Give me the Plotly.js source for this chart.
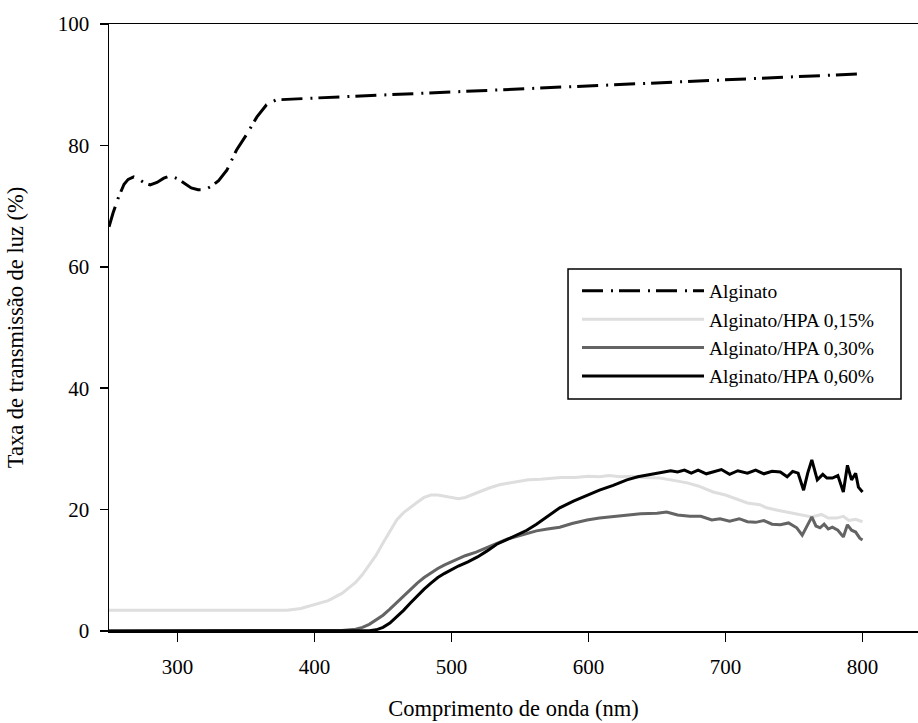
<!DOCTYPE html>
<html>
<head>
<meta charset="utf-8">
<script src="https://cdn.plot.ly/plotly-3.0.1.min.js"></script>
<style>body{margin:0;background:#fff}#chart{width:918px;height:723px}</style>
</head>
<body>
<div id="chart"></div>
<script>
// Series names
const seriesNames = ["Alginato", "Alginato/HPA 0,15%", "Alginato/HPA 0,30%", "Alginato/HPA 0,60%"];

// Alginato
const algX = [250,253,257,261,264,268,272,276,280,285,290,295,300,305,310,315,320,325,330,336,343,351,358,365,372,400,450,500,550,600,650,700,750,800];
const algY = [66.6,68.9,71.5,73.6,74.4,74.8,74.4,73.8,73.5,73.9,74.6,75.0,74.5,73.7,73.0,72.7,72.7,73.3,74.2,75.9,79.2,82.0,84.7,86.7,87.5,87.8,88.3,88.8,89.4,89.9,90.4,90.9,91.4,91.8];

// Alginato/HPA 0,15%
const hpa15X = [250,300,350,380,390,400,410,420,430,435,440,445,450,455,460,465,470,475,480,485,490,495,500,505,510,515,520,528,535,540,548,556,565,572,580,590,600,608,615,623,632,640,652,660,672,680,691,700,708,716,725,730,738,745,750,757,763,770,775,781,786,790,795,800];
const hpa15Y = [3.4,3.4,3.4,3.4,3.7,4.3,5.0,6.2,8.0,9.3,10.8,12.5,14.5,16.5,18.3,19.5,20.4,21.2,22.0,22.4,22.4,22.2,21.9,21.8,22.0,22.4,22.9,23.6,24.1,24.3,24.6,24.9,25.0,25.1,25.3,25.3,25.5,25.4,25.6,25.4,25.5,25.3,25.2,24.9,24.4,23.9,22.9,22.4,21.8,21.1,20.8,20.3,19.9,19.6,19.3,19.1,18.8,19.2,18.6,18.6,18.9,18.2,18.4,18.0];

// Alginato/HPA 0,30%
const hpa30X = [250,300,400,420,430,435,440,445,450,455,460,465,470,475,480,485,490,495,500,505,510,518,525,533,540,548,555,562,570,579,588,599,608,618,628,638,650,657,665,674,682,690,696,703,710,716,722,728,734,740,746,752,756,760,763,766,769,772,775,778,782,786,789,792,795,798,800];
const hpa30Y = [0,0,0,0.1,0.3,0.6,1.1,1.8,2.6,3.6,4.7,5.8,6.9,7.9,8.8,9.6,10.3,10.9,11.4,11.9,12.4,13.0,13.7,14.4,15.1,15.6,16.1,16.5,16.8,17.1,17.7,18.3,18.6,18.8,19.1,19.3,19.4,19.6,19.1,18.9,18.9,18.3,18.5,18.1,18.5,18.0,17.9,18.2,17.6,17.5,17.8,17.0,15.8,17.6,18.8,17.3,17.0,17.6,16.8,17.1,16.6,15.5,17.5,16.6,16.3,15.3,15.0];

// Alginato/HPA 0,60%
const hpa60X = [250,300,400,430,440,445,450,455,460,465,470,475,480,485,490,495,500,505,512,519,526,533,540,548,555,562,570,579,589,599,608,618,628,636,643,650,655,660,665,670,675,680,686,691,697,703,709,716,722,728,734,740,745,749,753,757,760,763,767,771,774,778,782,786,789,792,795,797,800];
const hpa60Y = [0,0,0,0,0.05,0.2,0.6,1.3,2.3,3.4,4.6,5.8,6.9,7.9,8.8,9.5,10.1,10.7,11.4,12.2,13.2,14.3,15.0,15.8,16.6,17.6,18.9,20.3,21.4,22.4,23.2,24.0,24.9,25.4,25.7,26.0,26.1,26.4,26.2,26.5,26.0,26.5,25.9,26.2,26.6,25.8,26.4,26.0,26.5,25.9,26.3,26.2,25.4,26.3,26.0,23.2,26.0,28.2,24.9,25.8,25.2,25.2,25.6,22.9,27.3,24.9,26.0,23.7,22.9];

// Axis ticks
const xTicks = [300,400,500,600,700,800];
const yTicks = [0,20,40,60,80,100];

const serif = "Liberation Serif, Times New Roman, serif";

const traces = [
  {x: algX, y: algY, name: seriesNames[0], mode: "lines", line: {color: "#000000", width: 3, dash: "21px,8px,2px,6px"}},
  {x: hpa15X, y: hpa15Y, name: seriesNames[1], mode: "lines", line: {color: "#dedede", width: 3}},
  {x: hpa30X, y: hpa30Y, name: seriesNames[2], mode: "lines", line: {color: "#646464", width: 3}},
  {x: hpa60X, y: hpa60Y, name: seriesNames[3], mode: "lines", line: {color: "#000000", width: 3}}
];

const layout = {
  width: 918, height: 723,
  margin: {l: 109, r: 0, t: 24, b: 92, pad: 0},
  paper_bgcolor: "#ffffff", plot_bgcolor: "#ffffff",
  font: {family: serif, color: "#000000", size: 21},
  showlegend: true,
  xaxis: {
    range: [250, 840.5], tickvals: xTicks, ticks: "outside", ticklen: 9, tickwidth: 1.5, tickcolor: "#000",
    showline: true, linecolor: "#000", linewidth: 1.5, mirror: true,
    showgrid: false, zeroline: false, ticklabelstandoff: 7,
    tickfont: {family: serif, size: 21, color: "#000"},
    automargin: false,
    title: {text: "Comprimento de onda (nm)", font: {family: serif, size: 22.5, color: "#000"}, standoff: 22}
  },
  yaxis: {
    range: [0, 100], tickvals: yTicks, ticks: "outside", ticklen: 8, tickwidth: 1.5, tickcolor: "#000",
    showline: true, linecolor: "#000", linewidth: 1.5,
    showgrid: false, zeroline: false, ticklabelstandoff: 6,
    tickfont: {family: serif, size: 21, color: "#000"},
    automargin: false,
    title: {text: "Taxa de transmissão de luz (%)", font: {family: serif, size: 22.5, color: "#000"}, standoff: 28}
  },
  shapes: [{
    type: "rect", xref: "paper", yref: "paper", layer: "below",
    x0: 0.5674, x1: 0.979, y0: 0.3822, y1: 0.5964,
    line: {color: "#000", width: 1.5}, fillcolor: "#ffffff"
  }],
  legend: {
    x: 0.5785, y: 0.592, xanchor: "left", yanchor: "top",
    bgcolor: "rgba(0,0,0,0)", borderwidth: 0,
    font: {family: serif, size: 19.5, color: "#000"},
    itemwidth: 122, tracegroupgap: 0
  }
};

Plotly.newPlot("chart", traces, layout, {displayModeBar: false, staticPlot: true});
</script>
</body>
</html>
